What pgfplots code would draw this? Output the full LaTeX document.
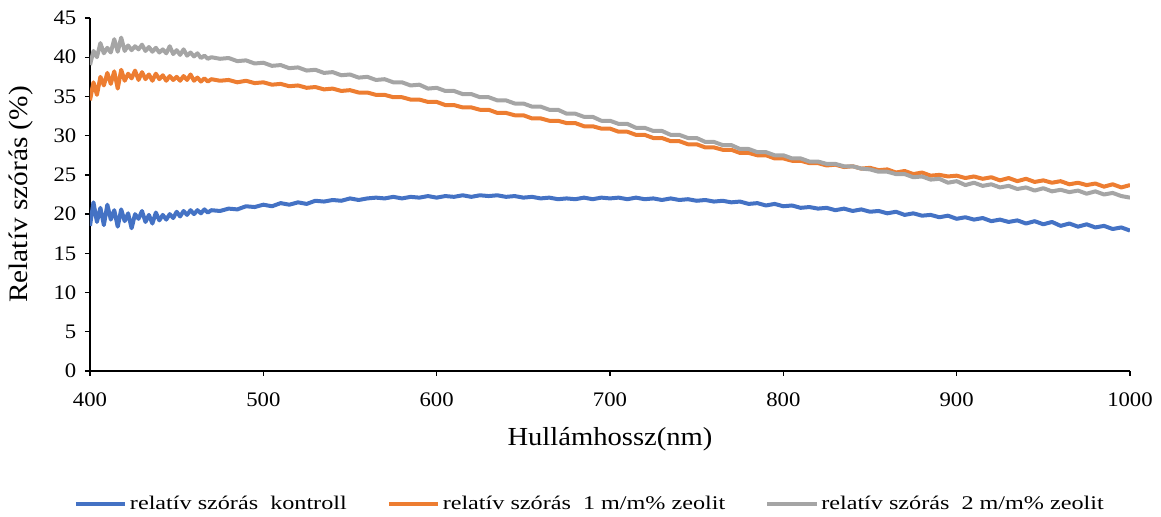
\documentclass[border=0pt]{standalone}
\usepackage{fontspec}
\setmainfont{Liberation Serif}[FakeStretch=1.1]
\newfontfamily\legfont{Liberation Serif}[FakeStretch=1.25]
\usepackage{pgfplots}
\pgfplotsset{compat=1.18}
\definecolor{cblue}{HTML}{4472C4}
\definecolor{corange}{HTML}{ED7D31}
\definecolor{cgray}{HTML}{A5A5A5}
\begin{document}
\begin{tikzpicture}
\useasboundingbox (-67.5pt,-109.5pt) rectangle (803.25pt,278.25pt);
\begin{axis}[
  scale only axis,
  width=780pt, height=264.75pt,
  xmin=400, xmax=1000, ymin=0, ymax=45,
  xtick={400,500,...,1000}, ytick={0,5,...,45},
  axis x line*=bottom, axis y line*=left,
  axis line style={-, black, line width=1.2pt},
  tick align=outside, major tick length=3.75pt,
  tick style={black, line width=1pt},
  /pgf/number format/assume math mode=true,
  /pgf/number format/1000 sep={},
  ticklabel style={font=\fontsize{15.5}{18}\selectfont},
  yticklabel style={xshift=-3pt},
  xticklabel style={yshift=-9pt},
  xlabel={Hullámhossz(nm)},
  ylabel={Relatív szórás (\%)},
  xlabel style={font=\fontsize{19.5}{22}\selectfont, at={(axis description cs:0.5,0)}, anchor=center, yshift=-51pt},
  ylabel style={font=\fontsize{20}{22}\selectfont, at={(axis description cs:-0.066,0.5)}, anchor=center},
  legend columns=3,
  legend style={draw=none, fill=none, at={(axis description cs:0.481,-0.376)}, anchor=center,
    font=\legfont\fontsize{14.5}{16}\selectfont, /tikz/every even column/.append style={column sep=28pt}},
  legend image code/.code={\draw[#1, line width=3pt] (0pt,0pt) -- (37pt,0pt);},
  every axis plot/.append style={line width=3pt, line join=round},
]
\addplot[cblue] coordinates {
(400,18.5)(402,21.5)(404,19.0)(406,20.8)(408,18.6)(410,21.2)(412,19.3)(414,20.5)(416,18.4)(418,20.6)
(420,19.1)(422,20.1)(424,18.2)(426,20.0)(428,19.4)(430,20.4)(432,19.0)(434,19.9)(436,18.8)(438,20.2)
(440,19.2)(442,19.9)(444,19.3)(446,20.0)(448,19.5)(450,20.3)(452,19.7)(454,20.4)(456,19.9)(458,20.5)
(460,20.0)(462,20.5)(464,20.1)(466,20.6)(468,20.2)(470,20.5)
(475,20.4)(480,20.7)(485,20.6)(490,21.0)(495,20.9)(500,21.2)(505,21.0)(510,21.4)(515,21.2)(520,21.5)
(525,21.3)(530,21.7)(535,21.6)(540,21.8)(545,21.7)(550,22.0)(555,21.8)(560,22.0)(565,22.1)(570,22.0)
(575,22.2)(580,22.0)(585,22.2)(590,22.1)(595,22.3)(600,22.1)(605,22.3)(610,22.2)(615,22.4)(620,22.2)
(625,22.4)(630,22.3)(635,22.4)(640,22.2)(645,22.3)(650,22.1)(655,22.2)(660,22.0)(665,22.1)(670,21.9)
(675,22.0)(680,21.9)(685,22.1)(690,21.9)(695,22.1)(700,22.0)(705,22.1)(710,21.9)(715,22.1)(720,21.9)
(725,22.0)(730,21.8)(735,22.0)(740,21.8)(745,21.9)(750,21.7)(755,21.8)(760,21.6)(765,21.7)(770,21.5)
(775,21.6)(780,21.3)(785,21.4)(790,21.1)(795,21.3)(800,21.0)(805,21.1)(810,20.8)(815,20.9)(820,20.7)
(825,20.8)(830,20.5)(835,20.7)(840,20.4)(845,20.6)(850,20.3)(855,20.4)(860,20.1)(865,20.3)(870,19.9)
(875,20.1)(880,19.8)(885,19.9)(890,19.6)(895,19.8)(900,19.4)(905,19.6)(910,19.3)(915,19.5)(920,19.1)
(925,19.3)(930,19.0)(935,19.2)(940,18.8)(945,19.1)(950,18.7)(955,19.0)(960,18.5)(965,18.8)(970,18.4)
(975,18.7)(980,18.3)(985,18.5)(990,18.1)(995,18.3)(1000,17.9)
};
\addlegendentry{relatív szórás\ \ kontroll}
\addplot[corange] coordinates {
(400,34.5)(402,36.8)(404,35.2)(406,37.5)(408,36.4)(410,38.0)(412,36.6)(414,38.2)(416,36.0)(418,38.4)
(420,37.0)(422,37.9)(424,37.3)(426,38.3)(428,37.1)(430,38.1)(432,37.2)(434,37.8)(436,37.0)(438,37.9)
(440,37.2)(442,37.7)(444,37.0)(446,37.6)(448,37.1)(450,37.5)(452,37.0)(454,37.6)(456,37.1)(458,37.8)
(460,37.0)(462,37.4)(464,36.9)(466,37.3)(468,36.9)(470,37.2)
(475,37.0)(480,37.1)(485,36.8)(490,37.0)(495,36.7)(500,36.8)(505,36.5)(510,36.6)(515,36.3)(520,36.4)
(525,36.1)(530,36.2)(535,35.9)(540,36.0)(545,35.7)(550,35.8)(555,35.5)(560,35.5)(565,35.2)(570,35.2)
(575,34.9)(580,34.9)(585,34.6)(590,34.6)(595,34.3)(600,34.3)(605,33.9)(610,33.9)(615,33.6)(620,33.6)
(625,33.3)(630,33.3)(635,32.9)(640,32.9)(645,32.6)(650,32.6)(655,32.2)(660,32.2)(665,31.9)(670,31.9)
(675,31.6)(680,31.6)(685,31.2)(690,31.2)(695,30.9)(700,30.9)(705,30.5)(710,30.5)(715,30.1)(720,30.1)
(725,29.7)(730,29.7)(735,29.3)(740,29.3)(745,28.9)(750,28.9)(755,28.5)(760,28.5)(765,28.2)(770,28.2)
(775,27.8)(780,27.8)(785,27.5)(790,27.5)(795,27.1)(800,27.1)(805,26.8)(810,26.8)(815,26.5)(820,26.5)
(825,26.2)(830,26.3)(835,26.0)(840,26.1)(845,25.8)(850,25.9)(855,25.6)(860,25.7)(865,25.3)(870,25.5)
(875,25.1)(880,25.3)(885,24.9)(890,25.0)(895,24.8)(900,24.9)(905,24.6)(910,24.8)(915,24.5)(920,24.7)
(925,24.3)(930,24.6)(935,24.2)(940,24.5)(945,24.1)(950,24.3)(955,24.0)(960,24.2)(965,23.8)(970,24.0)
(975,23.7)(980,23.9)(985,23.5)(990,23.8)(995,23.4)(1000,23.7)
};
\addlegendentry{relatív szórás\ \ 1 m/m\% zeolit}
\addplot[cgray] coordinates {
(400,39.0)(402,40.8)(404,40.0)(406,41.8)(408,40.5)(410,41.2)(412,40.6)(414,42.3)(416,40.7)(418,42.5)
(420,40.8)(422,41.5)(424,40.9)(426,41.4)(428,41.0)(430,41.6)(432,40.8)(434,41.3)(436,40.7)(438,41.2)
(440,40.6)(442,41.0)(444,40.5)(446,41.4)(448,40.4)(450,40.9)(452,40.3)(454,41.0)(456,40.2)(458,40.6)
(460,40.1)(462,40.5)(464,39.9)(466,40.2)(468,39.8)(470,40.0)
(475,39.8)(480,39.9)(485,39.5)(490,39.6)(495,39.2)(500,39.3)(505,38.9)(510,39.0)(515,38.6)(520,38.7)
(525,38.3)(530,38.4)(535,38.0)(540,38.1)(545,37.7)(550,37.8)(555,37.4)(560,37.5)(565,37.1)(570,37.2)
(575,36.8)(580,36.8)(585,36.4)(590,36.5)(595,36.0)(600,36.1)(605,35.7)(610,35.7)(615,35.3)(620,35.3)
(625,34.9)(630,34.9)(635,34.5)(640,34.5)(645,34.1)(650,34.1)(655,33.7)(660,33.7)(665,33.3)(670,33.3)
(675,32.8)(680,32.8)(685,32.4)(690,32.4)(695,31.9)(700,31.9)(705,31.5)(710,31.5)(715,31.0)(720,31.0)
(725,30.6)(730,30.6)(735,30.1)(740,30.1)(745,29.7)(750,29.7)(755,29.2)(760,29.2)(765,28.8)(770,28.8)
(775,28.3)(780,28.3)(785,27.9)(790,27.9)(795,27.5)(800,27.5)(805,27.1)(810,27.1)(815,26.7)(820,26.7)
(825,26.4)(830,26.4)(835,26.1)(840,26.1)(845,25.8)(850,25.7)(855,25.4)(860,25.4)(865,25.1)(870,25.1)
(875,24.7)(880,24.8)(885,24.4)(890,24.5)(895,24.0)(900,24.2)(905,23.7)(910,24.0)(915,23.6)(920,23.8)
(925,23.4)(930,23.6)(935,23.2)(940,23.4)(945,23.0)(950,23.3)(955,22.9)(960,23.1)(965,22.8)(970,23.0)
(975,22.6)(980,22.9)(985,22.5)(990,22.7)(995,22.3)(1000,22.1)
};
\addlegendentry{relatív szórás\ \ 2 m/m\% zeolit}
\end{axis}
\end{tikzpicture}
\end{document}
